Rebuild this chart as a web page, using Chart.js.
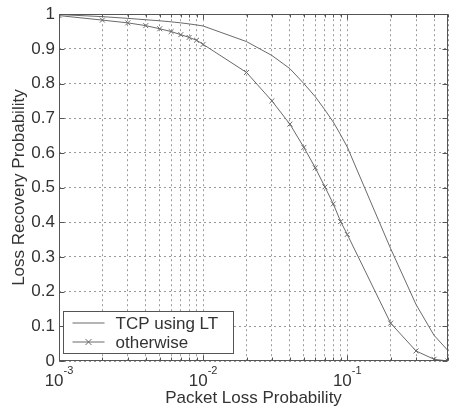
<!DOCTYPE html>
<html><head><meta charset="utf-8">
<script src="https://cdn.jsdelivr.net/npm/chart.js@4/dist/chart.umd.min.js"></script>
<style>html,body{margin:0;padding:0;background:#fff;}canvas{display:block;}</style>
</head><body>
<canvas id="c" width="453" height="409"></canvas>
<script>
// ---- data ----
const lossProb = [0.001,0.002,0.003,0.004,0.005,0.006,0.007,0.008,0.009,
                  0.01,0.02,0.03,0.04,0.05,0.06,0.07,0.08,0.09,
                  0.1,0.2,0.3,0.4,0.5];
const tcpUsingLT = [0.999,0.993,0.988,0.984,0.981,0.978,0.975,0.972,0.969,
                    0.966,0.921,0.881,0.843,0.800,0.762,0.724,0.689,0.652,
                    0.617,0.324,0.163,0.074,0.030];
const otherwise = [0.996,0.983,0.975,0.967,0.958,0.950,0.941,0.933,0.925,
                   0.913,0.832,0.750,0.683,0.616,0.557,0.502,0.453,0.402,
                   0.365,0.109,0.029,0.005,0.000];
const seriesNames = ['TCP using LT','otherwise'];
const xGridValues = [0.001,0.002,0.003,0.004,0.005,0.006,0.007,0.008,0.009,
                     0.01,0.02,0.03,0.04,0.05,0.06,0.07,0.08,0.09,
                     0.1,0.2,0.3,0.4,0.5];
const xDecadeValues = [0.001,0.01,0.1];
const xDecadeExponents = ['-3','-2','-1'];
const yTickValues = [0,0.1,0.2,0.3,0.4,0.5,0.6,0.7,0.8,0.9,1];
const xTitle = 'Packet Loss Probability';
const yTitle = 'Loss Recovery Probability';

const FONT = '"Liberation Sans", Arial, sans-serif';
const TEXT = '#333';
const LINE = '#6a6a6a';

const matlabPlugin = {
  id: 'matlab',
  afterDatasetsDraw(chart) {
    const ctx = chart.ctx, a = chart.chartArea;
    const xs = chart.scales.x, ys = chart.scales.y;
    ctx.save();
    // frame
    ctx.strokeStyle = '#555'; ctx.lineWidth = 1; ctx.setLineDash([]);
    const L = Math.round(a.left)+0.5, R = Math.round(a.right)-0.5,
          T = Math.round(a.top)+0.5, B = Math.round(a.bottom)-0.5;
    ctx.strokeRect(L, T, R-L, B-T);
    // inner ticks
    ctx.beginPath();
    xGridValues.forEach(v => {
      const px = Math.round(xs.getPixelForValue(v))+0.5;
      const len = xDecadeValues.includes(v) ? 5 : 3;
      ctx.moveTo(px, B); ctx.lineTo(px, B-len);
      ctx.moveTo(px, T); ctx.lineTo(px, T+len);
    });
    yTickValues.forEach(v => {
      const py = Math.round(ys.getPixelForValue(v))+0.5;
      ctx.moveTo(L, py); ctx.lineTo(L+5, py);
      ctx.moveTo(R, py); ctx.lineTo(R-5, py);
    });
    ctx.stroke();
    // x decade labels with superscripts
    ctx.fillStyle = TEXT;
    xDecadeValues.forEach((v, i) => {
      const px = xs.getPixelForValue(v);
      ctx.font = '17px ' + FONT;
      const w1 = ctx.measureText('10').width;
      ctx.font = '11px ' + FONT;
      const w2 = ctx.measureText(xDecadeExponents[i]).width;
      const x0 = px - (w1 + w2) / 2;
      ctx.textBaseline = 'alphabetic'; ctx.textAlign = 'left';
      ctx.font = '17px ' + FONT;
      ctx.fillText('10', x0, a.bottom + 25);
      ctx.font = '11px ' + FONT;
      ctx.fillText(xDecadeExponents[i], x0 + w1, a.bottom + 13);
    });
    // legend
    const bx = Math.round(a.left) + 4.5, by = Math.round(a.bottom) - 49.5, bw = 170, bh = 42;
    ctx.fillStyle = '#fff';
    ctx.fillRect(bx, by, bw, bh);
    ctx.strokeStyle = '#555';
    ctx.strokeRect(bx, by, bw, bh);
    const rows = [by + 11.5, by + 30.5];
    chart.data.datasets.forEach((ds, i) => {
      const y = rows[i];
      ctx.strokeStyle = ds.borderColor; ctx.lineWidth = 1;
      ctx.beginPath(); ctx.moveTo(bx + 9, y); ctx.lineTo(bx + 41, y); ctx.stroke();
      if (ds.pointRadius > 0) {
        const cx = bx + 25, r = 3;
        ctx.beginPath();
        ctx.moveTo(cx - r, y - r); ctx.lineTo(cx + r, y + r);
        ctx.moveTo(cx - r, y + r); ctx.lineTo(cx + r, y - r);
        ctx.stroke();
      }
      ctx.fillStyle = TEXT; ctx.font = '17px ' + FONT;
      ctx.textAlign = 'left'; ctx.textBaseline = 'middle';
      ctx.fillText(ds.label, bx + 52, y + 1);
    });
    ctx.restore();
  }
};

new Chart(document.getElementById('c'), {
  type: 'line',
  data: {
    datasets: [
      { label: seriesNames[0], data: lossProb.map((x, i) => ({x, y: tcpUsingLT[i]})),
        borderColor: LINE, borderWidth: 1, pointRadius: 0, tension: 0, fill: false },
      { label: seriesNames[1], data: lossProb.map((x, i) => ({x, y: otherwise[i]})),
        borderColor: LINE, borderWidth: 1, pointStyle: 'crossRot', pointRadius: 3.5,
        pointBorderColor: LINE, pointBorderWidth: 1, tension: 0, fill: false }
    ]
  },
  options: {
    responsive: false, animation: false, devicePixelRatio: 1,
    layout: { padding: { left: 0, top: 12, right: 4, bottom: 0 } },
    plugins: { legend: { display: false }, tooltip: { enabled: false } },
    scales: {
      x: {
        type: 'logarithmic', min: 0.001, max: 0.5,
        afterBuildTicks: s => { s.ticks = xGridValues.map(v => ({ value: v })); },
        afterFit: s => { s.height = 48; },
        ticks: { display: false },
        grid: { color: '#9a9a9a', lineWidth: 1, drawTicks: false },
        border: { display: false, dash: [2, 3] },
        title: { display: true, text: xTitle, color: TEXT,
                 font: { family: FONT, size: 17 }, padding: { top: 0, bottom: 0 } }
      },
      y: {
        min: 0, max: 1,
        afterBuildTicks: s => { s.ticks = yTickValues.map(v => ({ value: v })); },
        afterFit: s => { s.width = 59; },
        ticks: { color: TEXT, font: { family: FONT, size: 17 }, padding: 4,
                 callback: v => String(+(+v).toFixed(1)) },
        grid: { color: '#9a9a9a', lineWidth: 1, drawTicks: false },
        border: { display: false, dash: [2, 3] },
        title: { display: true, text: yTitle, color: TEXT,
                 font: { family: FONT, size: 17 }, padding: { top: 9, bottom: 0 } }
      }
    }
  },
  plugins: [matlabPlugin]
});
</script>
</body></html>
